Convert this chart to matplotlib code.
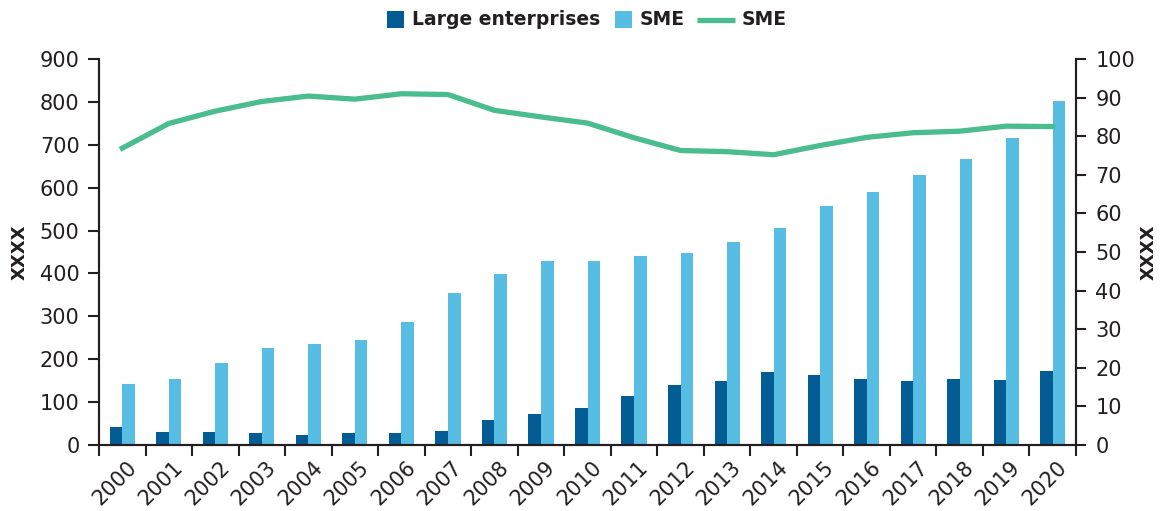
import numpy as np
import matplotlib
matplotlib.use("Agg")
import matplotlib.pyplot as plt
import matplotlib.transforms as mtransforms
from matplotlib.patches import Rectangle
from matplotlib.lines import Line2D
from matplotlib.offsetbox import (AnchoredOffsetbox, DrawingArea, HPacker,
                                  TextArea)

years = [str(y) for y in range(2000, 2021)]
large_enterprises = [42, 30, 30, 28, 23, 28, 28, 33, 58, 72, 86, 114, 140, 149,
                     170, 163, 154, 149, 154, 151, 172]
sme_bars = [142, 154, 191, 226, 235, 245, 287, 354, 399, 429, 429, 441, 448, 473,
            506, 557, 590, 629, 667, 716, 802]
sme_line = [76.9, 83.3, 86.5, 89.0, 90.4, 89.6, 91.0, 90.8, 86.7, 85.0, 83.4, 79.6,
            76.3, 76.0, 75.2, 77.6, 79.7, 80.9, 81.3, 82.6, 82.5]
series_names = ["Large enterprises", "SME", "SME"]

DARK = "#045c94"
LIGHT = "#57bde3"
GREEN = "#49bd8e"
INK = "#231f20"

plt.rcParams["font.family"] = ["DejaVu Sans"]

DPI = 100
fig = plt.figure(figsize=(11.61, 5.11), dpi=DPI)
ax = fig.add_axes([0.0853, 0.1292, 0.8415, 0.7553])
ax2 = ax.twinx()

x = np.arange(len(years))
w = 0.27
ax.bar(x - w / 2, large_enterprises, width=w, color=DARK, zorder=2)
ax.bar(x + w / 2, sme_bars, width=w, color=LIGHT, zorder=2)
ax2.plot(x, sme_line, color=GREEN, lw=3.8, zorder=3)

ax.set_xlim(-0.5, len(years) - 0.5)
ax.set_ylim(0, 900)
ax.set_yticks(np.arange(0, 901, 100))
ax2.set_ylim(0, 100)
ax2.set_yticks(np.arange(0, 101, 10))

# tick marks at category boundaries, labels at category centres
ax.set_xticks(np.arange(-0.5, len(years)), labels=[""] * (len(years) + 1))
ax.set_xticks(x, labels=years, minor=True)
ax.tick_params(axis="x", which="major", length=8, width=1.5, color=INK, direction="out")
ax.tick_params(axis="x", which="minor", length=0, pad=9, labelsize=15, labelcolor=INK)
shift = mtransforms.ScaledTranslation(4 / DPI, 0, fig.dpi_scale_trans)
for lbl in ax.get_xticklabels(minor=True):
    lbl.set_rotation(45)
    lbl.set_ha("right")
    lbl.set_va("top")
    lbl.set_rotation_mode("anchor")
    lbl.set_transform(lbl.get_transform() + shift)

ax.tick_params(axis="y", length=8, width=1.5, color=INK, labelsize=15,
               labelcolor=INK, pad=6)
ax2.tick_params(axis="y", length=7, width=1.5, color=INK, labelsize=15,
                labelcolor=INK, pad=7)

for a in (ax, ax2):
    a.spines["top"].set_visible(False)
    for s in ("left", "right", "bottom"):
        a.spines[s].set_color(INK)
        a.spines[s].set_linewidth(1.5)

ax.set_ylabel("XXXX", fontsize=13, fontweight="bold", color=INK)
ax2.set_ylabel("XXXX", fontsize=13, fontweight="bold", color=INK)
ax.yaxis.set_label_coords(-0.0716, 0.5)
ax2.yaxis.set_label_coords(1.0655, 0.5)

# legend row: square / line keys followed by bold labels
px = 72.0 / DPI  # one pixel in points


def square(color):
    da = DrawingArea(17 * px, 17 * px, 0, 0)
    da.add_artist(Rectangle((0, 0), 17 * px, 17 * px, facecolor=color,
                            edgecolor="none"))
    return da


def line_key(color):
    da = DrawingArea(38 * px, 17 * px, 0, 0)
    da.add_artist(Line2D([0, 38 * px], [8.5 * px, 8.5 * px], color=color, lw=3.8,
                         solid_capstyle="butt"))
    return da


def gap(n):
    return DrawingArea(n * px, 1, 0, 0)


def label(s):
    return TextArea(s, textprops=dict(fontsize=13.5, fontweight="bold", color=INK))


row = HPacker(children=[square(DARK), gap(8), label(series_names[0]), gap(14),
                        square(LIGHT), gap(8), label(series_names[1]), gap(12),
                        line_key(GREEN), gap(7), label(series_names[2])],
              align="center", pad=0, sep=0)
fig.add_artist(AnchoredOffsetbox(loc="center", child=row, pad=0, borderpad=0,
                                 frameon=False, bbox_to_anchor=(0.5056, 0.961),
                                 bbox_transform=fig.transFigure))

fig.savefig("out.png", dpi=DPI)
